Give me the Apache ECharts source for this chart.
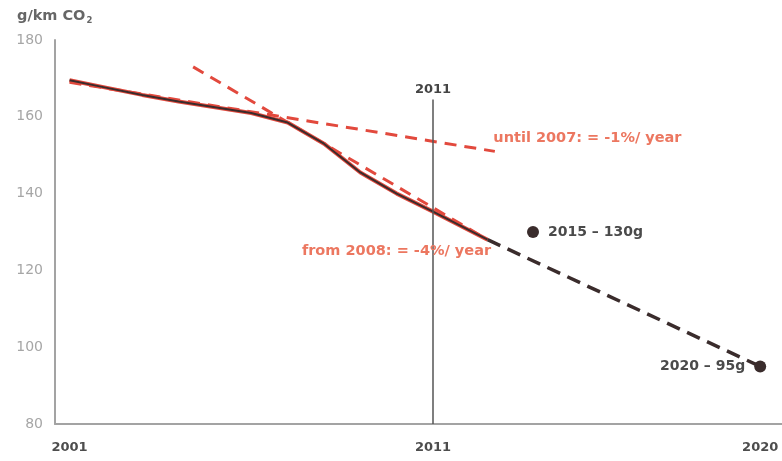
<!DOCTYPE html>
<html>
<head>
<meta charset="utf-8">
<script src="https://cdn.jsdelivr.net/npm/echarts@6/dist/echarts.min.js"></script>
<style>
  html, body { margin: 0; padding: 0; background: #ffffff; }
  #chart { width: 782px; height: 461px; }
</style>
</head>
<body>
<div id="chart"></div>
<script>
// ---- data ----
const actualYears = [2001, 2002, 2003, 2004, 2005, 2006, 2007, 2008, 2009, 2010, 2011, 2012.5];
const actualValues = [169.5, 167.6, 165.7, 164, 162.5, 161, 158.5, 153, 145.5, 140, 135.3, 128];

const trend1Years = [2001, 2012.7];      // until 2007: -1%/year
const trend1Values = [169, 151];
const trend4Years = [2004.4, 2012.5];    // from 2008: -4%/year
const trend4Values = [173, 128];

const projectionYears = [2012.5, 2020];
const projectionValues = [128, 95];

const targetX = [2013.75, 2020];
const targetValues = [130, 95];
const targetLabels = ['2015 \u2013 130g', '2020 \u2013 95g'];

const xTickLabels = [2001, 2011, 2020];
const yTicks = { min: 80, max: 180, step: 20 };
const markerYear = 2011;
const markerTop = 164.5;

const trend1Text = 'until 2007: = -1%/ year';
const trend4Text = 'from 2008: = -4%/ year';

// ---- styles ----
const FONT = 'DejaVu Sans';
const RED = '#e2493d';
const RED_TEXT = '#ec7760';
const DARK = '#3a2c2c';
const GREY_AXIS = '#a3a3a3';

const pairs = (xs, ys) => xs.map((x, i) => [x, ys[i]]);

const chart = echarts.init(document.getElementById('chart'));
chart.setOption({
  animation: false,
  backgroundColor: '#ffffff',
  title: {
    text: '{a|g/km CO}{b|2}',
    left: 12, top: 2,
    textStyle: {
      rich: {
        a: { fontFamily: FONT, fontSize: 14.5, fontWeight: 'bold', color: '#666666' },
        b: { fontFamily: FONT, fontSize: 8.5, fontWeight: 'bold', color: '#666666', padding: [9, 0, 0, 1] }
      }
    }
  },
  grid: { left: 55, right: 0, top: 40, bottom: 37, containLabel: false },
  xAxis: {
    type: 'value',
    min: 2000.6,
    max: 2020.6,
    axisLine: { show: true, lineStyle: { color: GREY_AXIS, width: 2 } },
    axisTick: { show: false },
    splitLine: { show: false },
    axisLabel: {
      customValues: xTickLabels,
      formatter: v => String(Math.round(v)),
      fontFamily: FONT, fontSize: 13, fontWeight: 'bold', color: '#4d4d4d',
      margin: 17
    }
  },
  yAxis: {
    type: 'value',
    min: yTicks.min, max: yTicks.max, interval: yTicks.step,
    axisLine: { show: true, lineStyle: { color: GREY_AXIS, width: 2 } },
    axisTick: { show: false },
    splitLine: { show: false },
    axisLabel: { fontFamily: FONT, fontSize: 14, color: '#a6a6a6', margin: 12 }
  },
  series: [
    {
      type: 'line', data: pairs(trend1Years, trend1Values),
      symbol: 'none', silent: true,
      lineStyle: { color: RED, width: 3, type: [12, 8] },
      markPoint: {
        symbol: 'circle', symbolSize: 1, itemStyle: { color: 'rgba(0,0,0,0)' },
        data: [{ coord: [trend1Years[1], trend1Values[1]] }],
        label: {
          show: true, position: 'right', distance: 0, offset: [-2, -13],
          formatter: trend1Text,
          fontFamily: FONT, fontSize: 14.5, fontWeight: 'bold', color: RED_TEXT
        }
      }
    },
    {
      type: 'line', data: pairs(trend4Years, trend4Values),
      symbol: 'none', silent: true,
      lineStyle: { color: RED, width: 3, type: [12, 8] },
      markPoint: {
        symbol: 'circle', symbolSize: 1, itemStyle: { color: 'rgba(0,0,0,0)' },
        data: [{ coord: [trend4Years[1], trend4Values[1]] }],
        label: {
          show: true, position: 'left', distance: 0, offset: [4, 12],
          formatter: trend4Text,
          fontFamily: FONT, fontSize: 14.5, fontWeight: 'bold', color: RED_TEXT
        }
      }
    },
    {
      type: 'line', data: pairs(projectionYears, projectionValues),
      symbol: 'none', silent: true,
      lineStyle: { color: DARK, width: 3.5, type: [14, 8] }
    },
    {
      type: 'line', data: pairs(actualYears, actualValues),
      symbol: 'none', silent: true,
      lineStyle: { color: RED, width: 4 }
    },
    {
      type: 'line', data: pairs(actualYears, actualValues),
      symbol: 'none', silent: true,
      lineStyle: { color: DARK, width: 2 },
      markLine: {
        silent: true, symbol: 'none',
        lineStyle: { color: '#555555', width: 1.5, type: 'solid' },
        label: {
          show: true, position: 'start', formatter: String(markerYear),
          fontFamily: FONT, fontSize: 13, fontWeight: 'bold', color: '#444444', distance: 3
        },
        data: [[{ coord: [markerYear, markerTop] }, { coord: [markerYear, yTicks.min] }]]
      }
    },
    {
      type: 'scatter',
      data: targetX.map((x, i) => ({
        value: [x, targetValues[i]],
        label: {
          show: true,
          position: i === 0 ? 'right' : 'left',
          distance: 9,
          formatter: targetLabels[i]
        }
      })),
      symbol: 'circle', symbolSize: 12,
      itemStyle: { color: DARK, opacity: 1 },
      label: { fontFamily: FONT, fontSize: 14, fontWeight: 'bold', color: '#4a4a4a' },
      silent: true, z: 5
    }
  ]
});
</script>
</body>
</html>
